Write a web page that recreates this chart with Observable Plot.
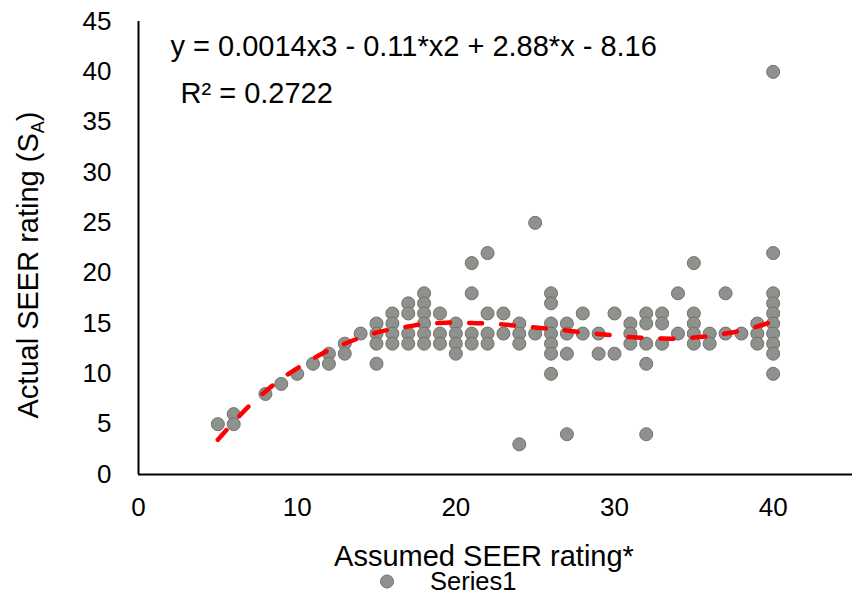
<!DOCTYPE html>
<html>
<head>
<meta charset="utf-8">
<script src="https://cdn.jsdelivr.net/npm/d3@7"></script>
<script src="https://cdn.jsdelivr.net/npm/@observablehq/plot@0.6"></script>
<style>
  html, body { margin: 0; padding: 0; background: #fff; }
  #chart { position: relative; width: 852px; height: 592px; overflow: hidden; font-family: "Liberation Sans", Arial, sans-serif; }
</style>
</head>
<body>
<div id="chart"></div>
<script>
// Assumed SEER rating (x) and Actual SEER rating (y)
const assumedSEER = [
  5, 6, 6, 8, 9, 10, 11, 12, 12, 13, 13, 14,
  15, 15, 15, 15,
  16, 16, 16, 16,
  17, 17, 17, 17,
  18, 18, 18, 18, 18, 18,
  19, 19, 19,
  20, 20, 20, 20,
  21, 21, 21, 21,
  22, 22, 22, 22,
  23, 23,
  24, 24, 24, 24,
  25, 25,
  26, 26, 26, 26, 26, 26, 26,
  27, 27, 27, 27,
  28, 28,
  29, 29,
  30, 30,
  31, 31, 31,
  32, 32, 32, 32, 32,
  33, 33, 33,
  34, 34,
  35, 35, 35, 35, 35,
  36, 36,
  37, 37,
  38,
  39, 39, 39,
  40, 40, 40, 40, 40, 40, 40, 40, 40, 40
];
const actualSEER = [
  5, 6, 5, 8, 9, 10, 11, 12, 11, 13, 12, 14,
  15, 14, 13, 11,
  16, 15, 14, 13,
  17, 16, 14, 13,
  18, 17, 16, 15, 14, 13,
  16, 14, 13,
  15, 14, 13, 12,
  21, 18, 14, 13,
  22, 16, 14, 13,
  16, 14,
  15, 14, 13, 3,
  25, 14,
  18, 17, 15, 14, 13, 12, 10,
  15, 14, 12, 4,
  16, 14,
  14, 12,
  16, 12,
  15, 14, 13,
  16, 15, 13, 11, 4,
  16, 15, 13,
  18, 14,
  21, 16, 15, 14, 13,
  14, 13,
  18, 14,
  14,
  15, 14, 13,
  40, 22, 18, 17, 16, 15, 14, 13, 12, 10
];
// Polynomial trend line
const trendX = [5, 6, 7, 8, 9, 10, 11, 12, 13, 14, 15, 16, 17, 18, 19, 20, 21, 22, 23, 24, 25, 26, 27, 28, 29, 30, 31, 32, 33, 34, 35, 36, 37, 38, 39, 40];
const trendY = [3.45, 5.2, 6.85, 8.25, 9.5, 10.55, 11.5, 12.35, 13.0, 13.6, 14.1, 14.45, 14.7, 14.95, 15.05, 15.1, 15.05, 15.0, 14.9, 14.75, 14.6, 14.45, 14.3, 14.1, 13.95, 13.8, 13.65, 13.55, 13.5, 13.5, 13.6, 13.75, 14.0, 14.3, 14.7, 15.2];

const xTicks = [0, 10, 20, 30, 40];
const yTicks = [0, 5, 10, 15, 20, 25, 30, 35, 40, 45];
const equationText = "y = 0.0014x3 - 0.11*x2 + 2.88*x - 8.16";
const r2Text = "R² = 0.2722";
const xTitle = "Assumed SEER rating*";
const yTitleMain = "Actual SEER rating (S";
const yTitleSub = "A";
const yTitleEnd = ")";
const seriesName = "Series1";

const points = assumedSEER.map((x, i) => ({x, y: actualSEER[i]}));
const trend = trendX.map((x, i) => ({x, y: trendY[i]}));

const fontFam = "'Liberation Sans', Arial, sans-serif";
const dotFill = "#8f918d";
const dotStroke = "#6f716d";

const plot = Plot.plot({
  width: 852,
  height: 592,
  marginLeft: 138,
  marginRight: 0,
  marginTop: 21,
  marginBottom: 118,
  style: {fontFamily: fontFam, fontSize: "26px", color: "#000", background: "#fff"},
  x: {domain: [0, 45]},
  y: {domain: [0, 45]},
  marks: [
    Plot.axisY({ticks: yTicks, tickSize: 0, tickPadding: 27, label: null, fontSize: 26}),
    Plot.axisX({ticks: xTicks, tickSize: 0, tickPadding: 23, label: null, fontSize: 26}),
    Plot.ruleX([0], {stroke: "#000", strokeWidth: 2}),
    Plot.ruleY([0], {stroke: "#000", strokeWidth: 2}),
    Plot.dot(points, {x: "x", y: "y", r: 6.5, fill: dotFill, stroke: dotStroke, strokeWidth: 1, fillOpacity: 1}),
    Plot.line(trend, {x: "x", y: "y", stroke: "#ff0000", strokeWidth: 4.5, strokeDasharray: "13,19", strokeLinecap: "round", curve: "catmull-rom"}),
    Plot.text([equationText], {frameAnchor: "top-left", dx: 32, dy: 13.5, lineAnchor: "top", textAnchor: "start", fontSize: 29, fill: "#000"}),
    Plot.text([r2Text], {frameAnchor: "top-left", dx: 42, dy: 61, lineAnchor: "top", textAnchor: "start", fontSize: 29, fill: "#000"})
  ]
});

document.getElementById("chart").appendChild(plot);

const svg = d3.select(plot);
// x axis title
svg.append("text")
  .attr("x", 484).attr("y", 566)
  .attr("text-anchor", "middle")
  .attr("font-family", fontFam).attr("font-size", 29).attr("fill", "#000")
  .text(xTitle);
// y axis title with subscript
const yt = svg.append("text")
  .attr("transform", "translate(38,265) rotate(-90)")
  .attr("text-anchor", "middle")
  .attr("font-family", fontFam).attr("font-size", 29).attr("fill", "#000");
yt.append("tspan").text(yTitleMain);
yt.append("tspan").attr("font-size", 18).attr("dy", 6).text(yTitleSub);
yt.append("tspan").attr("dy", -6).text(yTitleEnd);

// legend (below the x axis title)
const lg = svg.append("g");
lg.append("circle").attr("cx", 387).attr("cy", 581.5).attr("r", 6.5)
  .attr("fill", dotFill).attr("stroke", dotStroke).attr("stroke-width", 1);
lg.append("text").attr("x", 430).attr("y", 590)
  .attr("text-anchor", "start")
  .attr("font-family", fontFam).attr("font-size", 25.5).attr("fill", "#000")
  .text(seriesName);
</script>
</body>
</html>
